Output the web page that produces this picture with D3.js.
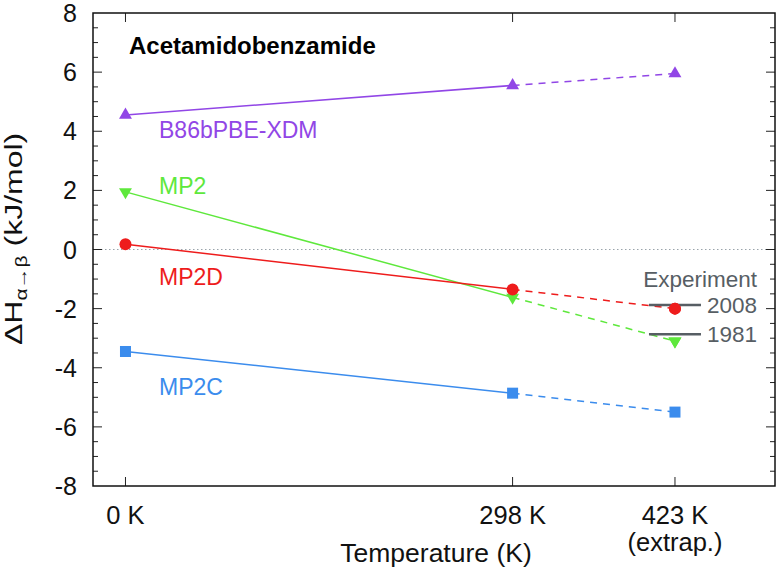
<!DOCTYPE html>
<html>
<head>
<meta charset="utf-8">
<script src="https://cdn.jsdelivr.net/npm/d3@7"></script>
<style>
  html, body { margin: 0; padding: 0; background: #fff; }
  svg { display: block; font-family: "Liberation Sans", Arial, Helvetica, sans-serif; }
</style>
</head>
<body>
<svg id="chart" width="779" height="572"></svg>
<script>
// ---- data ----
const temps = [0, 298, 423];
const tempLabels = ["0 K", "298 K", "423 K"];
const tempSubLabels = ["", "", "(extrap.)"];
const b86Values = [4.55, 5.55, 5.95];
const mp2Values = [1.95, -1.62, -3.1];
const mp2dValues = [0.18, -1.35, -2.0];
const mp2cValues = [-3.45, -4.86, -5.5];
const seriesNames = ["B86bPBE-XDM", "MP2", "MP2D", "MP2C"];
const expValues = [-1.88, -2.87];
const expLabels = ["2008", "1981"];
const yTicks = [-8, -6, -4, -2, 0, 2, 4, 6, 8];

(function () {
// ---- layout ----
const svg = d3.select("#chart");
const pL = 93, pR = 775, pT = 13, pB = 486;
const x = d3.scaleLinear().domain([-25, 500]).range([pL, pR]);
const y = d3.scaleLinear().domain([-8, 8]).range([pB, pT]);

const series = [
  {name: seriesNames[0], values: b86Values, color: "#9146e6", marker: "up", labelY: 4.05 },
  {name: seriesNames[1], values: mp2Values, color: "#5ee83c", marker: "down", labelY: 2.15 },
  {name: seriesNames[2], values: mp2dValues, color: "#ee1c1c", marker: "circle", labelY: -0.93 },
  {name: seriesNames[3], values: mp2cValues, color: "#3b8ced", marker: "square", labelY: -4.65 }
];

// zero line
svg.append("line")
  .attr("x1", pL).attr("x2", pR)
  .attr("y1", y(0)).attr("y2", y(0))
  .attr("stroke", "#9aa4ab").attr("stroke-width", 1)
  .attr("stroke-dasharray", "1.5,2.5");

// ticks: y left/right
const minor = d3.range(-8, 8.01, 0.5);
minor.forEach(v => {
  const isMajor = Math.abs(v % 2) < 1e-9;
  const len = isMajor ? 9 : 5;
  if (v === -8 || v === 8) return;
  svg.append("line").attr("x1", pL).attr("x2", pL + len)
    .attr("y1", y(v)).attr("y2", y(v)).attr("stroke", "#222").attr("stroke-width", 1);
  svg.append("line").attr("x1", pR).attr("x2", pR - len)
    .attr("y1", y(v)).attr("y2", y(v)).attr("stroke", "#222").attr("stroke-width", 1);
});
// x ticks top/bottom
temps.forEach(t => {
  svg.append("line").attr("x1", x(t)).attr("x2", x(t))
    .attr("y1", pB).attr("y2", pB - 9).attr("stroke", "#222").attr("stroke-width", 1);
  svg.append("line").attr("x1", x(t)).attr("x2", x(t))
    .attr("y1", pT).attr("y2", pT + 9).attr("stroke", "#222").attr("stroke-width", 1);
});

// frame
svg.append("rect").attr("x", pL).attr("y", pT)
  .attr("width", pR - pL).attr("height", pB - pT)
  .attr("fill", "none").attr("stroke", "#111").attr("stroke-width", 1.5);

// y tick labels
svg.selectAll(".ytl").data(yTicks).enter().append("text")
  .attr("x", 77).attr("y", d => y(d))
  .attr("dy", "0.36em")
  .attr("text-anchor", "end")
  .attr("font-size", 25)
  .attr("fill", "#111")
  .text(d => String(d));

// x tick labels
svg.selectAll(".xtl").data(temps).enter().append("text")
  .attr("x", d => x(d)).attr("y", 524)
  .attr("text-anchor", "middle").attr("font-size", 25.5).attr("fill", "#111")
  .text((d, i) => tempLabels[i]);
svg.selectAll(".xtl2").data(temps.filter((d, i) => tempSubLabels[i])).enter().append("text")
  .attr("x", d => x(d)).attr("y", 551)
  .attr("text-anchor", "middle").attr("font-size", 25.5).attr("fill", "#111")
  .text(d => tempSubLabels[temps.indexOf(d)]);

// x axis title
svg.append("text").attr("x", 436).attr("y", 562)
  .attr("text-anchor", "middle").attr("font-size", 26.5).attr("fill", "#111")
  .text("Temperature (K)");

// y axis title
const yt = svg.append("text")
  .attr("transform", "translate(22,345) rotate(-90) scale(1,0.75)")
  .attr("text-anchor", "start").attr("font-size", 32).attr("fill", "#111");
yt.append("tspan").text("ΔH");
yt.append("tspan").attr("dy", 7).attr("font-size", 21).text("α→β");
yt.append("tspan").attr("dy", -7).text(" (kJ/mol)");

// title
svg.append("text").attr("x", 129).attr("y", 54)
  .attr("font-size", 24).attr("font-weight", "bold").attr("fill", "#000")
  .text("Acetamidobenzamide");

// series
const lineGen = d3.line().x(d => x(d[0])).y(d => y(d[1]));
function marker(s, cx, cy) {
  if (s.marker === "circle") {
    svg.append("circle").attr("cx", cx).attr("cy", cy).attr("r", 6).attr("fill", s.color);
  } else if (s.marker === "square") {
    svg.append("rect").attr("x", cx - 5.5).attr("y", cy - 5.5).attr("width", 11).attr("height", 11).attr("fill", s.color);
  } else {
    const sym = d3.symbol().type(d3.symbolTriangle).size(72);
    svg.append("path").attr("d", sym())
      .attr("transform", `translate(${cx},${cy})` + (s.marker === "down" ? " rotate(180)" : ""))
      .attr("fill", s.color);
  }
}
series.forEach(s => {
  const pts = temps.map((t, i) => [t, s.values[i]]);
  svg.append("path").attr("d", lineGen(pts.slice(0, 2)))
    .attr("fill", "none").attr("stroke", s.color).attr("stroke-width", 1.5);
  svg.append("path").attr("d", lineGen(pts.slice(1, 3)))
    .attr("fill", "none").attr("stroke", s.color).attr("stroke-width", 1.5)
    .attr("stroke-dasharray", "7,6");
  pts.forEach(p => marker(s, x(p[0]), y(p[1])));
  svg.append("text").attr("x", 159).attr("y", y(s.labelY))
    .attr("dy", "0.36em")
    .attr("font-size", 23).attr("fill", s.color).text(s.name);
});

// experiment legend
const expColor = "#575e64";
svg.append("text").attr("x", 757).attr("y", 287)
  .attr("text-anchor", "end").attr("font-size", 22.5).attr("fill", expColor)
  .text("Experiment");
expValues.forEach((v, i) => {
  svg.append("line").attr("x1", x(423) - 26).attr("x2", x(423) + 26)
    .attr("y1", y(v)).attr("y2", y(v))
    .attr("stroke", expColor).attr("stroke-width", 2.5);
  svg.append("text").attr("x", 757).attr("y", y(v)).attr("dy", "0.36em")
    .attr("text-anchor", "end").attr("font-size", 22.5).attr("fill", expColor)
    .text(expLabels[i]);
});
// redraw 423K markers above experiment bars
series.forEach(s => {
  if (s.marker === "circle" || s.marker === "down") marker(s, x(423), y(s.values[2]));
});
})();
</script>
</body>
</html>
